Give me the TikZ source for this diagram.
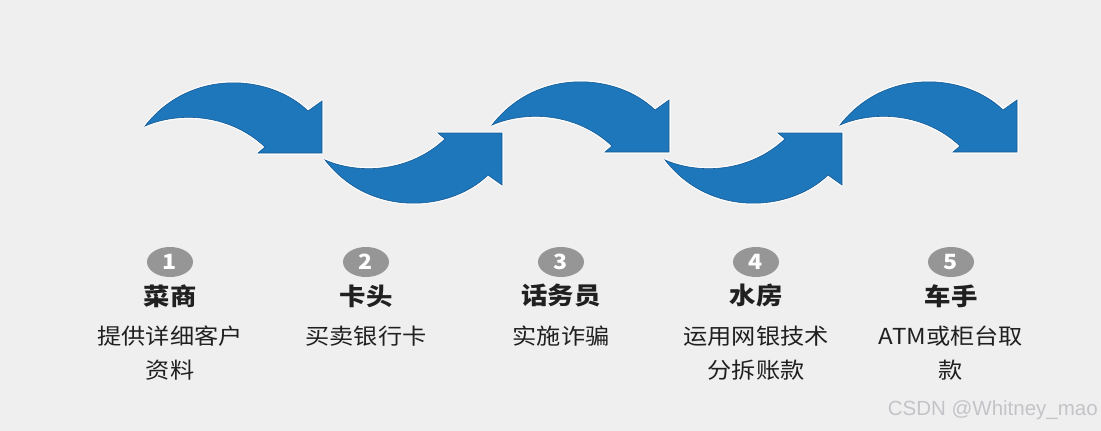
\documentclass[tikz,border=0pt]{standalone}
\usepackage{fontspec}
\usetikzlibrary{shapes.geometric}
\newfontfamily\cjk[FakeStretch=1.1]{Noto Sans CJK SC}
\newfontfamily\wmfont{Liberation Sans}
\definecolor{bg}{RGB}{239,239,240}
\definecolor{arrowblue}{RGB}{29,119,186}
\definecolor{arrowedge}{RGB}{22,90,148}
\definecolor{numgray}{RGB}{150,150,150}
\definecolor{txt}{RGB}{32,32,32}
\definecolor{wmgray}{RGB}{196,196,200}
\tikzset{
  bigarrow/.style={preaction={draw=white,line width=3pt,line join=round},
    fill=arrowblue, draw=arrowedge, line width=0.6pt},
  flowarrow/.pic={
    \path[bigarrow] (0,0) .. controls (45,-58) and (125,-52) .. (163,-15)
      -- (177,-25) -- (177,27) -- (113,27) -- (120,21)
      .. controls (85,-12) and (35,-15) .. (0,0) -- cycle;
  },
  numdot/.style={ellipse, fill=numgray, minimum width=46pt, minimum height=30pt,
    inner sep=0pt, text=white, font=\cjk\bfseries\fontsize{21}{21}\selectfont},
  steptitle/.style={text=txt, inner sep=0pt, font=\cjk\bfseries\fontsize{24}{24}\selectfont},
  stepdesc/.style={text=txt, inner sep=0pt, font=\cjk\fontsize{22}{22}\selectfont},
  watermark/.style={text=wmgray, inner sep=0pt, font=\wmfont\fontsize{20.5}{20.5}\selectfont}
}
\begin{document}
\begin{tikzpicture}[x=1pt,y=-1pt]
  \fill[bg] (0,0) rectangle (1101,431);
  \useasboundingbox (0,0) rectangle (1101,431);
  % arrows
  \path (145,126) pic {flowarrow};
  \path (325,160) pic[yscale=-1] {flowarrow};
  \path (492,125) pic {flowarrow};
  \path (665,160) pic[yscale=-1] {flowarrow};
  \path (840,125) pic {flowarrow};
  % numbers
  \node[numdot] (n1) at (170,262) {1};
  \node[numdot] (n2) at (366,262) {2};
  \node[numdot] (n3) at (561,262) {3};
  \node[numdot] (n4) at (756,262) {4};
  \node[numdot] (n5) at (951,262) {5};
  % titles
  \node[steptitle] (t1) at (170,296) {菜商};
  \node[steptitle] (t2) at (366,296) {卡头};
  \node[steptitle] (t3) at (561,296) {话务员};
  \node[steptitle] (t4) at (756,296) {水房};
  \node[steptitle] (t5) at (951,296) {车手};
  % descriptions
  \node[stepdesc] (d1a) at (170,336) {提供详细客户};
  \node[stepdesc] (d1b) at (170,370) {资料};
  \node[stepdesc] (d2a) at (366,336) {买卖银行卡};
  \node[stepdesc] (d3a) at (561,336) {实施诈骗};
  \node[stepdesc] (d4a) at (756,336) {运用网银技术};
  \node[stepdesc] (d4b) at (756,370) {分拆账款};
  \node[stepdesc] (d5a) at (951,336) {ATM或柜台取};
  \node[stepdesc] (d5b) at (951,370) {款};
  % watermark
  \node[watermark, anchor=east] (wm) at (1098,410) {CSDN @Whitney\_mao};
\end{tikzpicture}
\end{document}
